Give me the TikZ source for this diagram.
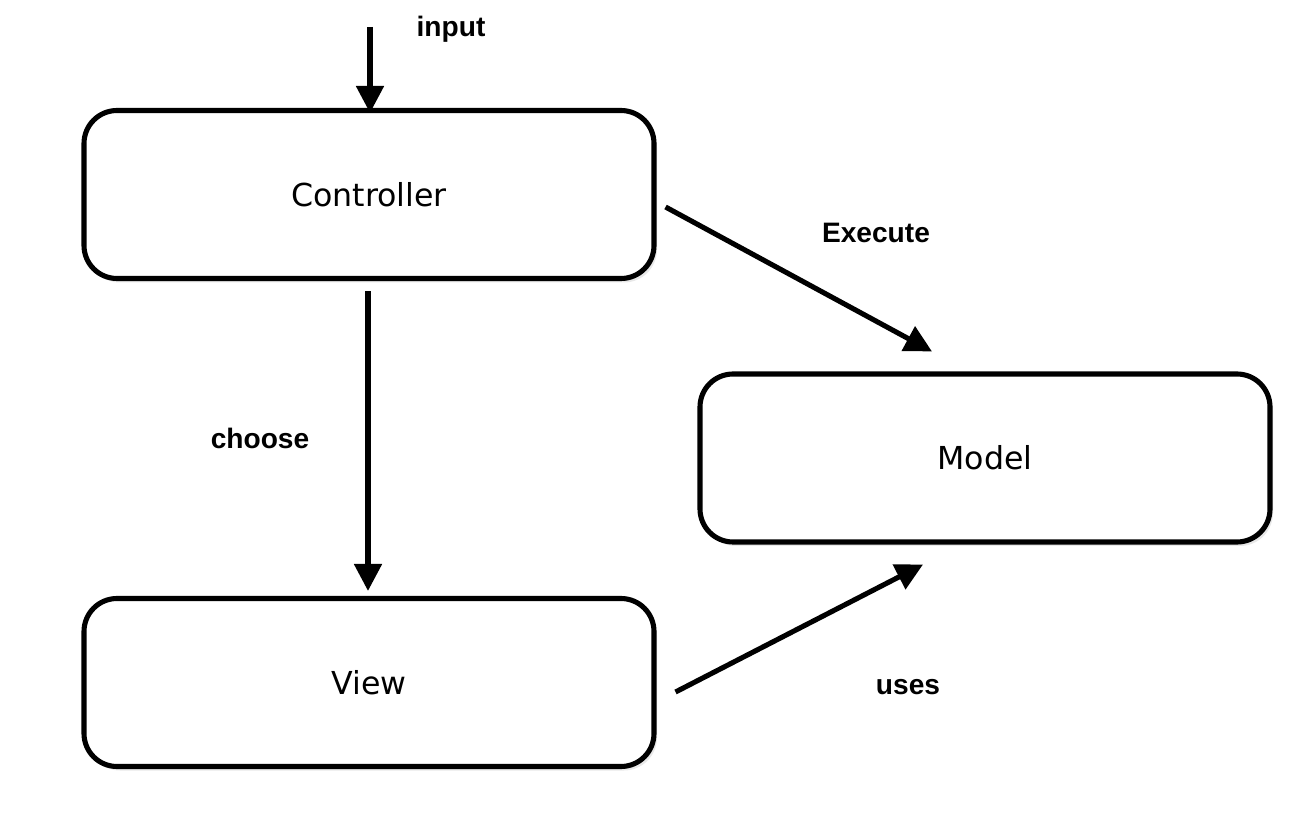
\documentclass[tikz,border=0pt]{standalone}
\usepackage{fontspec}
\setmainfont{Liberation Sans}
\newfontfamily\boxfont{DejaVu Sans}
\usetikzlibrary{arrows.meta,positioning}
\usetikzlibrary{calc}
\usetikzlibrary{shadows}

\tikzset{
    mvcbox/.style = {draw, line width = 2.9pt, rounded corners = 0.66cm, fill = white,
        minimum width = 11.4cm, minimum height = 3.36cm, font = \boxfont\fontsize{18}{20}\selectfont,
        drop shadow = {opacity = 0.18, shadow xshift = 0.06cm, shadow yshift = -0.08cm}},
    arr/.style = {line width = 2.9pt, -{Triangle[length = 0.54cm, width = 0.54cm]}},
    lbl/.style = {anchor = base, font = \bfseries\fontsize{16}{18}\selectfont}
}

\begin{document}
\begin{tikzpicture}

        \useasboundingbox (0,0) rectangle (26.32,-16.32);

        % draw the boxes
        \node[mvcbox] (controller) at (7.38,-3.89) {Controller};
        \node[mvcbox] (model) at (19.70,-9.16) {Model};
        \node[mvcbox] (view) at (7.38,-13.65) {View};

        % start of the input arrow
        \coordinate (input_start) at ($(controller.north) + (0.02,1.62)$);

        % draw the arrows
        \draw[arr] (input_start) -- ($(controller.north) + (0.02,-0.1)$);
        \draw[arr, shorten <= 0.2cm, shorten >= 0.1cm] ($(controller.south) + (-0.02,0)$) -- ($(view.north) + (-0.02,0)$);
        \draw[arr] ($(controller.east) + (0.18,-0.25)$) -- ($(model.north) + (-1.06,0.4)$);
        \draw[arr] ($(view.east) + (0.38,-0.19)$) -- ($(model.south) + (-1.24,-0.4)$);

        % draw the labels
        \node[lbl] (input_label) at (9.02,-0.74) {input};
        \node[lbl] (choose_label) at (5.2,-8.98) {choose};
        \node[lbl] (execute_label) at (17.52,-4.86) {Execute};
        \node[lbl] (uses_label) at (18.16,-13.88) {uses};

      \end{tikzpicture}
\end{document}
